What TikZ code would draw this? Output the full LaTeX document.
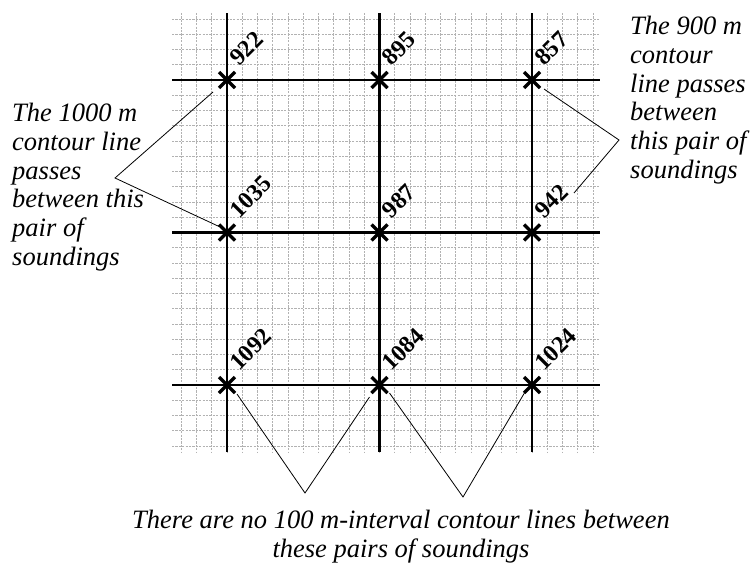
\documentclass[tikz,border=0pt]{standalone}
\usepackage{fontspec}
\setmainfont{Liberation Serif}
\begin{document}
\begin{tikzpicture}[x=1pt,y=-1pt,
 minor/.style={gray!60, line width=0.6pt, dash pattern=on 2.2pt off 1.2pt},
 major/.style={black, line width=2.8pt},
 cross/.style={black, line width=3.2pt},
 callout/.style={black, line width=0.8pt},
 depth/.style={font=\fontsize{24}{24}\selectfont\bfseries, rotate=45, anchor=base west, inner sep=0pt},
 note/.style={font=\fontsize{26.5}{28.8}\selectfont\itshape, align=left, inner sep=0pt, anchor=north west}]
\useasboundingbox (0,0) rectangle (750,565);
% minor grid
\foreach \i in {0,...,27} \draw[minor] ({181.25+15.25*\i},13) -- ({181.25+15.25*\i},452);
\foreach \j in {0,...,28} \draw[minor] (172,{19+15.25*\j}) -- (600,{19+15.25*\j});
% intersections
\foreach \c/\x in {1/227,2/379.5,3/532}
  \foreach \r/\y in {1/80,2/232.5,3/385}
    \coordinate (p\r\c) at (\x,\y);
% major lines
\foreach \x in {227,379.5,532} \draw[major] (\x,13) -- (\x,452);
\foreach \y in {80,232.5,385} \draw[major] (172,\y) -- (600,\y);
% crosses
\foreach \r in {1,2,3} \foreach \c in {1,2,3}
  \draw[cross] ([shift={(-8,-8)}]p\r\c) -- ([shift={(8,8)}]p\r\c) ([shift={(-8,8)}]p\r\c) -- ([shift={(8,-8)}]p\r\c);
% depth labels
\node[depth] (d11) at ([shift={(12,-13)}]p11) {922};
\node[depth] (d12) at ([shift={(12,-13)}]p12) {895};
\node[depth] (d13) at ([shift={(12,-13)}]p13) {857};
\node[depth] (d21) at ([shift={(12,-13)}]p21) {1035};
\node[depth] (d22) at ([shift={(12,-13)}]p22) {987};
\node[depth] (d23) at ([shift={(12,-13)}]p23) {942};
\node[depth] (d31) at ([shift={(12,-13)}]p31) {1092};
\node[depth] (d32) at ([shift={(12,-13)}]p32) {1084};
\node[depth] (d33) at ([shift={(12,-13)}]p33) {1024};
% notes
\node[note] (nl) at (12,103) {The 1000 m\\contour line\\passes\\between this\\pair of\\soundings};
\node[note] (nr) at (630,16) {The 900 m\\contour\\line passes\\between\\this pair of\\soundings};
\node[font=\fontsize{26.5}{29}\selectfont\itshape, align=center, inner sep=0pt, anchor=north] (nb) at (401,510) {There are no 100 m-interval contour lines between\\these pairs of soundings};
% callouts
\coordinate (vl) at (115,178);
\coordinate (vr) at (619,140);
\coordinate (vb1) at (305,493);
\coordinate (vb2) at (463,497);
\coordinate (e23) at (574,193);
\draw[callout] ([shift={(-14,12)}]p11) -- (vl) -- ([shift={(-8,-6)}]p21);
\draw[callout] ([shift={(12,9)}]p13) -- (vr) -- (e23);
\draw[callout] ([shift={(10,9)}]p31) -- (vb1) -- ([shift={(-10,12)}]p32);
\draw[callout] ([shift={(10,8)}]p32) -- (vb2) -- ([shift={(-7,7)}]p33);
\end{tikzpicture}
\end{document}
